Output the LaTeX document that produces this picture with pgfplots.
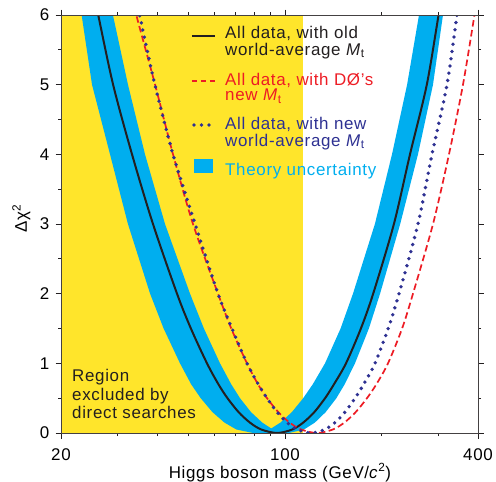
\documentclass[border=0pt]{standalone}
\usepackage{fontspec}
\setmainfont{Liberation Sans}[LetterSpace=4]
\usepackage{pgfplots}
\pgfplotsset{compat=1.18}
\definecolor{hyellow}{HTML}{FFE52B}
\definecolor{hcyan}{HTML}{00AEEF}
\definecolor{hred}{HTML}{ED1C24}
\definecolor{hnavy}{HTML}{2E3192}
\definecolor{hblack}{HTML}{231F20}
\newcommand\Mt{\textit{M}\raisebox{-0.3ex}{\fontsize{12}{12}\selectfont t}}
\newcommand\fs{\fontsize{17}{19}\selectfont}
\begin{document}
\begin{tikzpicture}
\useasboundingbox (-61bp,-49bp) rectangle (435bp,433bp);
\begin{axis}[
  scale only axis, width=417bp, height=418bp,
  xmode=log, xmin=20, xmax=400, ymin=0, ymax=6,
  xtick={20,100,400}, xticklabels={20,100,400},
  minor xtick={30,40,50,60,70,80,90,200,300},
  ytick={0,1,2,3,4,5,6},
  minor ytick={0.5,1.5,2.5,3.5,4.5,5.5},
  tick align=outside,
  major tick length=5.5bp, minor tick length=3bp,
  tick style={hblack, line width=0.8bp},
  axis line style={hblack!85, line width=1bp},
  axis on top,
  /pgf/number format/assume math mode=true,
  ticklabel style={font=\fs, inner sep=0pt},
  xticklabel style={anchor=north, yshift=-9.5bp},
  yticklabel style={anchor=east, xshift=-6bp},
  xlabel={Higgs boson mass (GeV/\textit{c}\textsuperscript{2})},
  xlabel style={font=\fs, at={(axis description cs:0.525,-0.108)}, anchor=base, inner sep=0pt},
  ylabel={Δχ\textsuperscript{2}},
  ylabel style={font=\fs, at={(axis description cs:-0.082,0.514)}, anchor=base, inner sep=0pt},
]
% excluded region
\addplot[fill=hyellow, draw=none] coordinates {(20,0) (113.8,0) (113.8,6) (20,6)} --cycle;
% theory uncertainty band
\addplot[fill=hcyan, draw=none] coordinates {
(22.26,6.4) (23.19,6) (24.99,5) (28.44,4) (32.35,3) (37.93,2) (41.80,1.5) (47.02,1) (50.93,0.7) (54.56,0.5) (59.34,0.3) (64.69,0.15) (70.51,0.05) (79.44,0)
(102.89,0)
(114.60,0.05) (123.93,0.15) (133.93,0.3) (144.63,0.5) (153.52,0.7) (165.30,1) (182.66,1.5) (197.96,2) (228.72,3) (259.90,4) (289.49,5) (311.05,6) (321.50,6.4)
(270.98,6.4) (261.79,6) (240.34,5) (215.63,4) (190.71,3) (162.94,2) (149.05,1.5) (133.26,1) (122.07,0.7) (113.94,0.5) (105.05,0.3) (96.79,0.15) (90.54,0.0657)
(84.87,0.15) (78.31,0.3) (72.36,0.5) (67.93,0.7) (62.68,1) (55.83,1.5) (50.53,2) (42.22,3) (36.57,4) (32.36,5) (29.04,6) (27.85,6.4)
} --cycle;
% old world-average
\addplot[hblack, line width=2bp, smooth] coordinates {
(25.04,6.4) (26.13,6) (29.08,5) (33.31,4) (38.73,3) (46.02,2) (50.85,1.5) (57.09,1) (61.96,0.7) (66.14,0.5) (71.63,0.3) (77.69,0.15) (84.32,0.05) (94.39,0)
(105.3,0.05) (114.0,0.15) (123.4,0.3) (133.35,0.5) (142.15,0.7) (154.95,1) (172.46,1.5) (188.39,2) (218.6,3) (245.4,4) (276.9,5) (301.4,6) (313.3,6.4)
};
% D0 new Mt
\addplot[hred, line width=1.7bp, dash pattern=on 6.5bp off 3.5bp, smooth] coordinates {
(32.79,6.4) (34.35,6) (39.32,5) (44.72,4) (51.62,3) (61.78,2) (67.95,1.5) (76.09,1) (82.35,0.7) (87.85,0.5) (95.27,0.3) (103.33,0.15) (112.31,0.05) (125.81,0)
(140.94,0.05) (153.18,0.15) (166.13,0.3) (180.19,0.5) (192.77,0.7) (209.53,1) (231.86,1.5) (250.74,2) (289.49,3) (324.73,4) (359.10,5) (390.04,6) (402.6,6.4)
};
% new world-average
\addplot[hnavy, line width=3.8bp, line cap=round, dash pattern=on 0bp off 7.3bp, smooth] coordinates {
(33.77,6.4) (35.18,6) (39.26,5) (44.72,4) (52.4,3) (61.78,2) (68.32,1.5) (76.09,1) (82.53,0.7) (87.85,0.5) (94.39,0.3) (101.42,0.15) (109.05,0.05) (120.51,0)
(133.16,0.05) (143.18,0.15) (153.84,0.3) (165.30,0.5) (175.96,0.7) (190.84,1) (209.82,1.5) (226.74,2) (259.90,3) (287.41,4) (320.12,5) (343.96,6) (354.0,6.4)
};
% legend
\draw[hblack, line width=2bp] (axis description cs:0.3141,0.9498) -- (axis description cs:0.3693,0.9498);
\draw[hred, line width=1.7bp, dash pattern=on 5.5bp off 3.5bp] (axis description cs:0.3141,0.8421) -- (axis description cs:0.3705,0.8421);
\draw[hnavy, line width=3.8bp, line cap=round, dash pattern=on 0bp off 7.5bp] (axis description cs:0.3189,0.7368) -- (axis description cs:0.3561,0.7368);
\fill[hcyan] (axis description cs:0.3189,0.6220) rectangle (axis description cs:0.3645,0.6555);
\begin{scope}[every node/.style={font=\fs, inner sep=0pt, anchor=base west}]
\node[text=hblack] at (axis description cs:0.3933,0.9426) {All data, with old};
\node[text=hblack] at (axis description cs:0.3933,0.9043) {world-average \Mt};
\node[text=hred] at (axis description cs:0.3933,0.8325) {All data, with DØ's};
\node[text=hred] at (axis description cs:0.3933,0.7943) {new \Mt};
\node[text=hnavy] at (axis description cs:0.3933,0.7249) {All data, with new};
\node[text=hnavy] at (axis description cs:0.3933,0.6866) {world-average \Mt};
\node[text=hcyan] at (axis description cs:0.3933,0.6172) {Theory uncertainty};
\node[text=hblack] at (axis description cs:0.0264,0.1227) {Region};
\node[text=hblack] at (axis description cs:0.0264,0.0773) {excluded by};
\node[text=hblack] at (axis description cs:0.0264,0.0352) {direct searches};
\end{scope}
\end{axis}
\end{tikzpicture}
\end{document}
